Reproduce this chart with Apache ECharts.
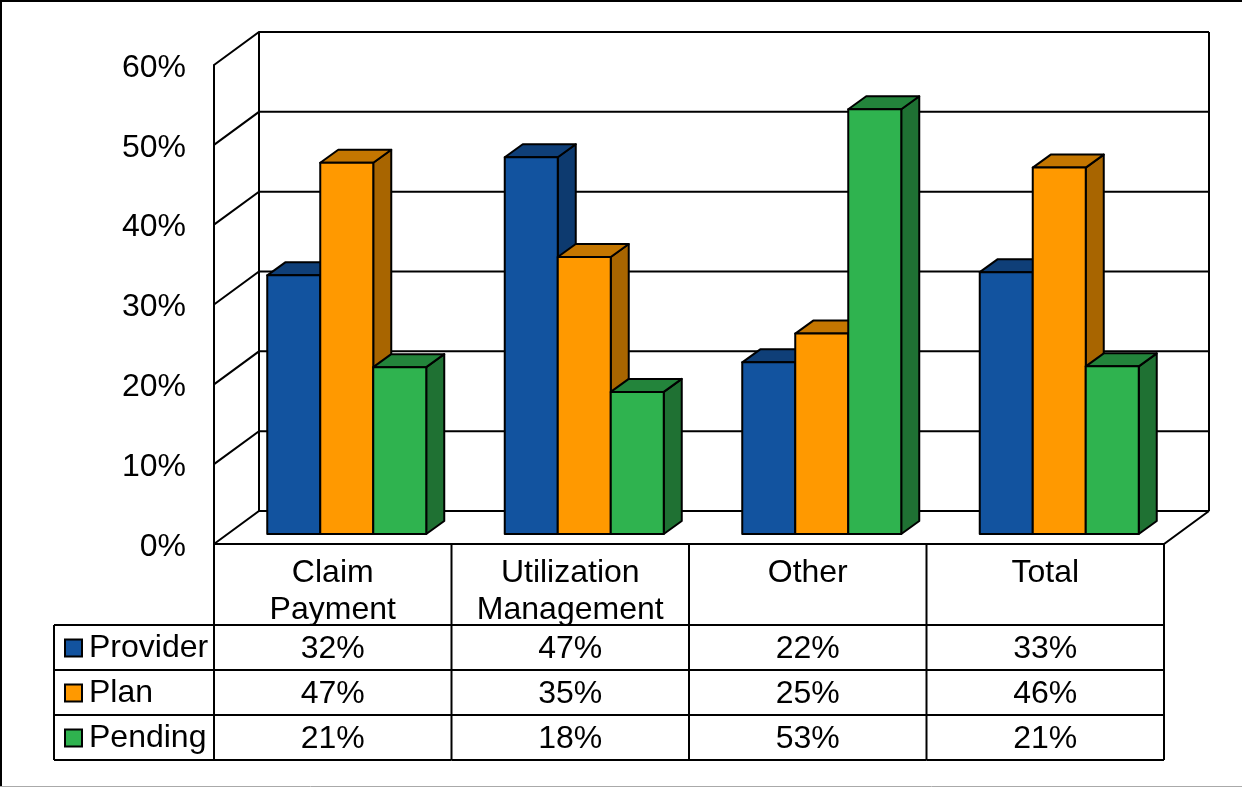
<!DOCTYPE html>
<html>
<head>
<meta charset="utf-8">
<title>Chart</title>
<script src="https://cdn.jsdelivr.net/npm/echarts@6/dist/echarts.min.js"></script>
<style>
    html, body { margin: 0; padding: 0; background: #fff; }
    #box1 { width: 1242px; height: 787px; }
</style>
</head>
<body>
<div id="box1"></div>
<script>
var categories = ['Claim\nPayment', 'Utilization\nManagement', 'Other', 'Total'];
var yTicks = [0, 10, 20, 30, 40, 50, 60];
var seriesNames = ['Provider', 'Plan', 'Pending'];
var provider = [32.4, 47.2, 21.5, 32.8];
var plan = [46.5, 34.7, 25.1, 45.9];
var pending = [20.9, 17.8, 53.2, 21.0];

var seriesValues = [provider, plan, pending];
var faceColors = ['#12539F', '#FF9900', '#2FB34F'];
var topColors = ['#0F3F78', '#C47600', '#23843B'];
var sideColors = ['#0D3A6F', '#A86500', '#1F7133'];

// depth of the box and of the bars, in pixels
var wallDx = 45, wallDy = 33;
var barFrontDx = 14, barFrontDy = 10;
var barDepthDx = 18, barDepthDy = 13;
var barWidth = 53;
var tableRows = [625, 670, 715, 760];
var tableLeft = 54;
var fontName = '"Liberation Sans", Arial, sans-serif';
var lineStyle = { stroke: '#000', lineWidth: 2, fill: null };

function line(points) {
    return { type: 'polyline', shape: { points: points }, style: lineStyle, silent: true };
}

function renderWall(params, api) {
    var v = api.value(0);
    var p = api.coord([0, v]);
    var band = api.size([1, 0])[0];
    var x0 = p[0] - band / 2;
    var x1 = x0 + band * categories.length;
    var y = p[1];
    var kids = [line([[x0, y], [x0 + wallDx, y - wallDy], [x1 + wallDx, y - wallDy]])];
    if (v === 0) {
        var top = api.coord([0, yTicks[yTicks.length - 1]])[1];
        kids.push(line([[x0, y], [x1, y], [x1 + wallDx, y - wallDy]]));
        kids.push(line([[x0 + wallDx, y - wallDy], [x0 + wallDx, top - wallDy]]));
        kids.push(line([[x1 + wallDx, y - wallDy], [x1 + wallDx, top - wallDy]]));
    }
    return { type: 'group', children: kids };
}

function renderBar(params, api) {
    var s = params.seriesIndex - 1;
    var p = api.coord([api.value(0), api.value(1)]);
    var base = api.coord([api.value(0), 0]);
    var x = p[0] + barFrontDx + (s - 1.5) * barWidth;
    var r = x + barWidth;
    var t = p[1] - barFrontDy;
    var b = base[1] - barFrontDy;
    function face(points, color) {
        return {
            type: 'polygon',
            shape: { points: points },
            style: { fill: color, stroke: '#000', lineWidth: 2, lineJoin: 'round' }
        };
    }
    return {
        type: 'group',
        children: [
            face([[r, t], [r + barDepthDx, t - barDepthDy], [r + barDepthDx, b - barDepthDy], [r, b]], sideColors[s]),
            face([[x, t], [x + barDepthDx, t - barDepthDy], [r + barDepthDx, t - barDepthDy], [r, t]], topColors[s]),
            face([[x, t], [r, t], [r, b], [x, b]], faceColors[s])
        ]
    };
}

function renderTable(params, api) {
    var i = api.value(0);
    var p = api.coord([i, 0]);
    var band = api.size([1, 0])[0];
    var x0 = p[0] - band / 2;
    var x1 = x0 + band;
    var y0 = p[1];
    var last = tableRows[tableRows.length - 1];
    var kids = [line([[x1, y0], [x1, last]])];
    if (i === 0) {
        kids.push(line([[x0, y0], [x0, last]]));
        kids.push(line([[tableLeft, tableRows[0]], [tableLeft, last]]));
    }
    tableRows.forEach(function (y, r) {
        kids.push(line([[i === 0 ? tableLeft : x0, y], [x1, y]]));
        if (r < seriesValues.length) {
            kids.push({
                type: 'text',
                silent: true,
                style: {
                    x: p[0],
                    y: (y + tableRows[r + 1]) / 2 + 2,
                    text: Math.round(seriesValues[r][i]) + '%',
                    fill: '#000',
                    font: '32px ' + fontName,
                    align: 'center',
                    verticalAlign: 'middle'
                }
            });
        }
    });
    return { type: 'group', children: kids };
}

var series = [{
    type: 'custom',
    name: 'wall',
    renderItem: renderWall,
    data: yTicks.map(function (v) { return [v]; }),
    encode: { y: 0 },
    clip: false,
    z: 1,
    animation: false,
    silent: true
}];
seriesNames.forEach(function (name, s) {
    series.push({
        type: 'custom',
        name: name,
        renderItem: renderBar,
        data: seriesValues[s].map(function (v, i) { return [i, v]; }),
        encode: { x: 0, y: 1 },
        itemStyle: { color: faceColors[s] },
        clip: false,
        z: 2,
        animation: false
    });
});
series.push({
    type: 'custom',
    name: 'table',
    renderItem: renderTable,
    data: categories.map(function (c, i) { return [i]; }),
    encode: { x: 0 },
    clip: false,
    z: 3,
    animation: false,
    silent: true
});

var chart = echarts.init(document.getElementById('box1'), null, { renderer: 'canvas' });
var option = {
    animation: false,
    backgroundColor: '#fff',
    textStyle: { fontFamily: fontName, color: '#000' },
    grid: { left: 214, top: 65, width: 950, height: 479, containLabel: false },
    legend: {
        orient: 'vertical',
        left: 59,
        top: 627,
        itemWidth: 17,
        itemHeight: 17,
        itemGap: 13,
        selectedMode: false,
        textStyle: { fontFamily: fontName, fontSize: 32, color: '#000', padding: [0, 0, 0, 2] },
        data: seriesNames.map(function (name, s) {
            return {
                name: name,
                icon: 'rect',
                itemStyle: { color: faceColors[s], borderColor: '#000', borderWidth: 2 }
            };
        })
    },
    xAxis: {
        type: 'category',
        data: categories,
        axisLine: { show: false },
        axisTick: { show: false },
        axisLabel: {
            interval: 0,
            margin: 11,
            fontFamily: fontName,
            fontSize: 32,
            lineHeight: 37,
            color: '#000',
            verticalAlign: 'top'
        }
    },
    yAxis: {
        type: 'value',
        min: 0,
        max: 60,
        interval: 10,
        splitLine: { show: false },
        axisTick: { show: false },
        axisLine: { show: true, lineStyle: { color: '#000', width: 2 } },
        axisLabel: {
            margin: 28,
            fontFamily: fontName,
            fontSize: 32,
            color: '#000',
            verticalAlign: 'top',
            lineHeight: 6,
            formatter: '{value}%'
        }
    },
    graphic: [
        { type: 'line', silent: true, shape: { x1: 0, y1: 1, x2: 1242, y2: 1 }, style: { stroke: '#000', lineWidth: 2 } },
        { type: 'line', silent: true, shape: { x1: 1, y1: 0, x2: 1, y2: 787 }, style: { stroke: '#000', lineWidth: 2 } },
        { type: 'line', silent: true, shape: { x1: 0, y1: 786.5, x2: 1242, y2: 786.5 }, style: { stroke: '#aaa', lineWidth: 1 } }
    ],
    series: series
};
chart.setOption(option);
</script>
</body>
</html>
